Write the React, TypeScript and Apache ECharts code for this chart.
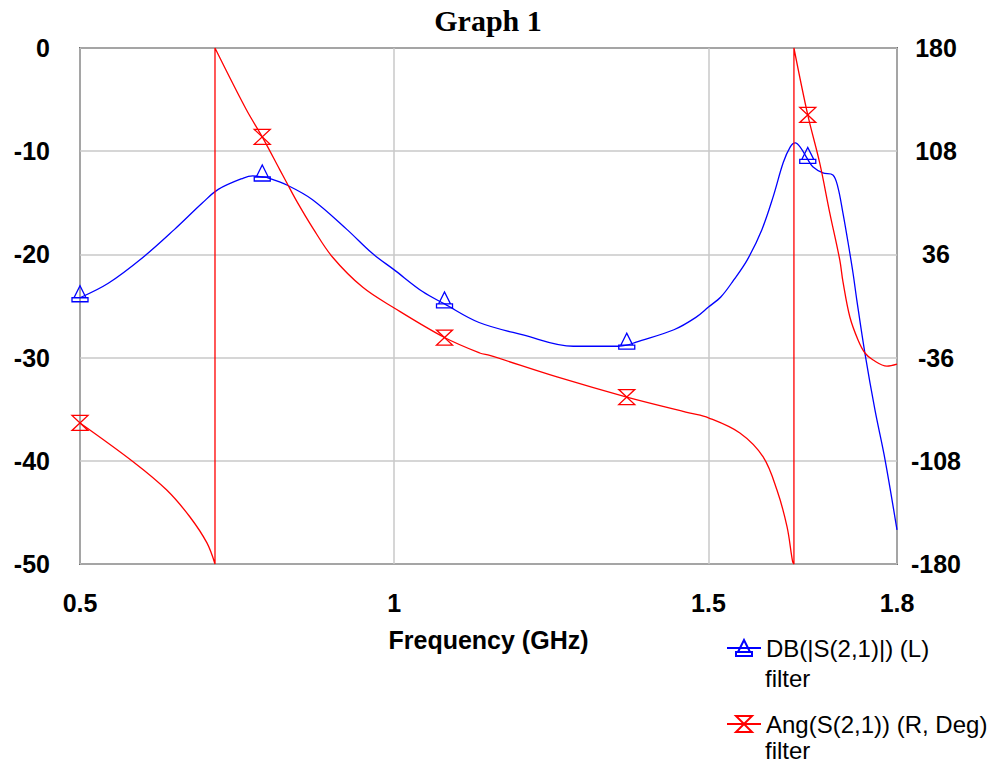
import React, { useEffect, useRef } from "react";
import * as echarts from "echarts";

// Blue trace: DB(|S(2,1)|), left axis (dB)
const blueFreq = [0.5, 0.545, 0.6, 0.65, 0.695, 0.72, 0.76, 0.775, 0.79, 0.8, 0.83, 0.87, 0.925, 0.965, 1.0, 1.045, 1.08, 1.135, 1.205, 1.285, 1.355, 1.37, 1.385, 1.445, 1.48, 1.5, 1.52, 1.54, 1.562, 1.585, 1.603, 1.619, 1.63, 1.638, 1.646, 1.658, 1.666, 1.682, 1.698, 1.706, 1.714, 1.722, 1.73, 1.736, 1.749, 1.765, 1.781, 1.8];
const blueDb = [-24.2, -22.8, -20.3, -17.6, -15.0, -13.7, -12.6, -12.4, -12.5, -12.6, -13.3, -14.7, -17.6, -19.9, -21.5, -23.6, -24.8, -26.6, -27.8, -28.9, -28.9, -28.8, -28.5, -27.3, -26.1, -25.1, -24.1, -22.5, -20.5, -17.6, -14.4, -11.1, -9.6, -9.2, -9.6, -10.8, -11.5, -12.1, -12.3, -13.5, -16.0, -18.8, -21.8, -24.4, -29.6, -35.1, -39.9, -46.7];

// Red trace: Ang(S(2,1)), right axis (degrees)
const redFreq = [0.5, 0.585, 0.638, 0.675, 0.702, 0.7148, 0.7148, 0.765, 0.79, 0.818, 0.829, 0.845, 0.871, 0.902, 0.95, 1.0, 1.08, 1.136, 1.152, 1.259, 1.37, 1.471, 1.5, 1.55, 1.587, 1.609, 1.625, 1.634, 1.636, 1.636, 1.658, 1.677, 1.693, 1.709, 1.714, 1.725, 1.738, 1.749, 1.762, 1.784, 1.8];
const redDeg = [-81.6, -108.8, -128.4, -147.2, -165.3, -180, 180, 136.7, 118, 95, 86, 73, 54, 34, 13, -1.4, -22, -32.8, -34.5, -49.5, -63.5, -74.7, -78, -88.6, -105.3, -128.4, -154, -178.6, -180, 180, 133.3, 99.8, 65, 32, 17, -7.7, -23.7, -32.8, -37.7, -41.9, -40.5];

const markerFreqs = [0.5, 0.79, 1.08, 1.37, 1.658];
const xLabelValues = [0.5, 1, 1.5, 1.8];
const rightLabelValues = [-180, -108, -36, 36, 108, 180];

const titleText = "Graph 1";
const xName = "Frequency (GHz)";
const blueName = "DB(|S(2,1)|) (L)";
const redName = "Ang(S(2,1)) (R, Deg)";
const legendSub = "filter";

const triPath = "path://M2,12 L8,0 L14,12 Z M0,12 L16,12 L16,16 L0,16 Z";
const hourPath = "path://M0,0 L16,0 L0,16 L16,16 Z";

const FONT = "'Liberation Sans', Arial, sans-serif";

function buildData(freqs: number[], vals: number[]) {
  return freqs.map((f, i) => {
    const isMarker = markerFreqs.some((m) => Math.abs(m - f) < 1e-9);
    return isMarker ? { value: [f, vals[i]] } : { value: [f, vals[i]], symbol: "none" };
  });
}

export default function App() {
  const ref = useRef<HTMLDivElement>(null);
  useEffect(() => {
    if (!ref.current) return;
    const chart = echarts.init(ref.current, null, { renderer: "svg" });
    const axisLabelStyle = {
      fontSize: 25,
      fontWeight: "bold" as const,
      fontFamily: FONT,
      color: "#000",
    };
    const legendText = { fontSize: 24, fontFamily: FONT, color: "#000", lineHeight: 20 };
    chart.setOption({
      animation: false,
      backgroundColor: "#fff",
      title: {
        text: titleText,
        left: 488,
        top: 5,
        padding: 0,
        textAlign: "center",
        textStyle: { fontFamily: "'Liberation Serif', 'Times New Roman', serif", fontWeight: "bold", fontSize: 30, color: "#000" },
      },
      grid: {
        left: 80,
        top: 48,
        width: 817,
        height: 516,
        show: true,
        borderColor: "#000",
        borderWidth: 1.5,
        backgroundColor: "transparent",
      },
      legend: [
        {
          data: [blueName],
          orient: "vertical",
          left: 726,
          top: 636,
          padding: 0,
          itemWidth: 34,
          itemHeight: 20,
          selectedMode: false,
          textStyle: legendText,
        },
        {
          data: [redName],
          orient: "vertical",
          left: 726,
          top: 712,
          padding: 0,
          itemWidth: 34,
          itemHeight: 20,
          selectedMode: false,
          textStyle: legendText,
        },
      ],
      graphic: [
        { type: "text", x: 765, y: 678, style: { text: legendSub, fontSize: 24, fontFamily: FONT, fill: "#000", verticalAlign: "middle" } },
        { type: "text", x: 765, y: 750, style: { text: legendSub, fontSize: 24, fontFamily: FONT, fill: "#000", verticalAlign: "middle" } },
      ],
      xAxis: {
        type: "value",
        min: 0.5,
        max: 1.8,
        interval: 0.5,
        name: xName,
        nameLocation: "middle",
        nameGap: 63,
        nameTextStyle: axisLabelStyle,
        axisLine: { show: false },
        axisTick: { show: false },
        axisLabel: { ...axisLabelStyle, margin: 26, customValues: xLabelValues, showMinLabel: true, showMaxLabel: true },
        splitLine: { show: true, lineStyle: { color: "#c8c8c8", width: 1.5 } },
      },
      yAxis: [
        {
          type: "value",
          position: "left",
          min: -50,
          max: 0,
          interval: 10,
          axisLine: { show: false },
          axisTick: { show: false },
          axisLabel: { ...axisLabelStyle, margin: 30, padding: [8, 0, 0, 0] },
          splitLine: { show: true, lineStyle: { color: "#c8c8c8", width: 1.5 } },
        },
        {
          type: "value",
          position: "right",
          min: -180,
          max: 180,
          axisLine: { show: false },
          axisTick: { show: false },
          axisLabel: { ...axisLabelStyle, margin: 39, align: "center", padding: [8, 0, 0, 0], customValues: rightLabelValues },
          splitLine: { show: false },
        },
      ],
      series: [
        {
          name: blueName,
          type: "line",
          xAxisIndex: 0,
          yAxisIndex: 0,
          data: buildData(blueFreq, blueDb),
          smooth: 0.35,
          showSymbol: true,
          symbol: triPath,
          symbolSize: [16, 16],
          symbolOffset: [0, -4],
          lineStyle: { color: "#0000ff", width: 1.3 },
          itemStyle: { color: "rgba(255,255,255,0)", borderColor: "#0000ff", borderWidth: 1.3 },
          emphasis: { disabled: true },
        },
        {
          name: redName,
          type: "line",
          xAxisIndex: 0,
          yAxisIndex: 1,
          data: buildData(redFreq, redDeg),
          smooth: 0.35,
          showSymbol: true,
          symbol: hourPath,
          symbolSize: [16, 15],
          lineStyle: { color: "#ff0000", width: 1.3 },
          itemStyle: { color: "rgba(255,255,255,0)", borderColor: "#ff0000", borderWidth: 1.3 },
          emphasis: { disabled: true },
        },
      ],
    });
    return () => chart.dispose();
  }, []);
  return <div ref={ref} style={{ position: "fixed", left: 0, top: 0, width: 995, height: 763 }} />;
}
